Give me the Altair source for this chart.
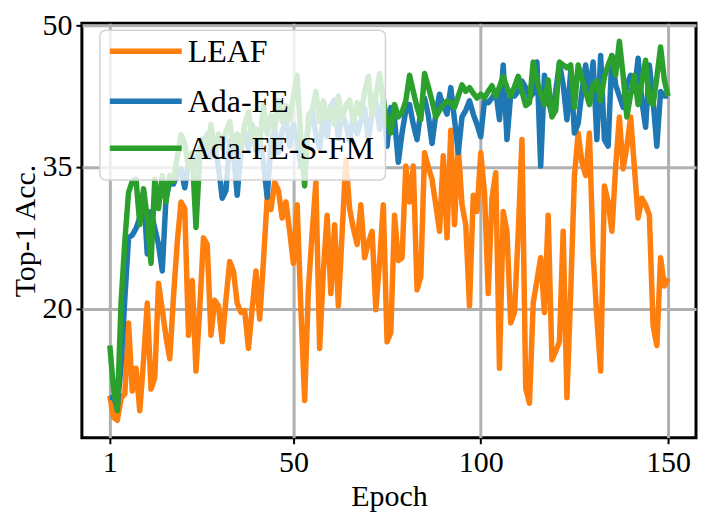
import altair as alt
import pandas as pd

epochs = list(range(1, 151))

leaf = [10.8, 8.5, 8.2, 10.5, 11.0, 18.5, 11.3, 13.7, 9.2, 14.5,
        20.6, 11.5, 12.7, 22.7, 19.9, 17.0, 14.7, 21.3, 27.0, 31.3,
        30.6, 17.2, 23.0, 13.4, 20.0, 27.5, 26.8, 17.2, 20.9, 20.3,
        16.5, 21.0, 25.0, 24.0, 20.6, 19.6, 19.8, 15.8, 20.0, 24.0,
        18.9, 25.0, 31.7, 30.5, 33.4, 32.5, 29.6, 31.3, 28.2, 24.8,
        31.0, 20.0, 10.3, 22.0, 28.0, 33.4, 15.8, 24.0, 29.9, 21.6,
        28.9, 20.3, 28.0, 35.8, 30.6, 28.5, 26.8, 31.0, 25.4, 27.0,
        28.2, 19.9, 25.0, 31.0, 16.5, 17.5, 29.9, 25.1, 25.4, 35.1,
        31.3, 35.1, 22.0, 23.4, 36.5, 35.0, 33.7, 31.0, 28.2, 36.2,
        27.5, 38.9, 28.9, 37.2, 31.0, 28.9, 20.3, 32.0, 30.3, 36.5,
        32.3, 21.6, 31.7, 34.4, 13.7, 30.3, 28.2, 18.5, 19.6, 28.0,
        37.9, 11.6, 10.0, 20.6, 23.0, 25.4, 19.6, 29.9, 14.6, 15.5,
        16.5, 28.2, 10.6, 21.6, 34.0, 38.6, 35.5, 34.1, 38.6, 25.8,
        19.0, 13.4, 33.0, 31.3, 28.2, 35.0, 40.3, 34.8, 37.2, 40.3,
        35.0, 29.6, 31.7, 31.0, 29.9, 18.2, 16.1, 25.4, 22.4, 23.2]

ada_fe = [10.6, 10.6, 9.6, 14.0, 21.0, 27.5, 27.8, 28.5, 29.6, 32.3,
          25.8, 30.3, 28.5, 26.8, 24.0, 31.7, 33.4, 33.2, 34.2, 34.8,
          32.8, 35.5, 36.5, 35.0, 37.0, 36.2, 38.5, 36.0, 37.5, 35.0,
          31.7, 32.5, 37.8, 36.5, 32.0, 36.8, 38.8, 37.0, 39.5, 36.8,
          38.0, 35.5, 31.8, 37.5, 39.0, 36.5, 38.8, 40.0, 37.2, 39.5,
          38.0, 35.0, 36.8, 39.2, 41.0, 38.5, 37.0, 40.3, 38.2, 41.5,
          42.1, 38.0, 40.8, 39.5, 37.8, 40.5, 38.5, 39.8, 41.2, 38.0,
          40.6, 42.0, 39.0, 42.3, 37.2, 41.3, 40.0, 35.5, 38.6, 41.0,
          41.6, 39.5, 37.9, 41.0, 42.3, 40.5, 37.5, 40.6, 42.7, 41.5,
          40.6, 43.4, 40.0, 36.5, 40.3, 41.0, 42.0, 40.6, 39.5, 38.2,
          42.0, 41.8, 42.3, 43.0, 40.0, 45.8, 37.9, 42.7, 42.5, 43.0,
          44.1, 43.4, 42.3, 42.8, 46.1, 35.1, 44.7, 42.0, 40.6, 43.0,
          46.0, 43.7, 40.0, 45.1, 38.6, 39.6, 43.0, 45.8, 42.7, 46.1,
          37.9, 46.8, 37.9, 37.2, 46.8, 43.7, 42.5, 41.3, 43.7, 44.7,
          43.0, 46.5, 42.0, 39.2, 45.8, 42.0, 37.2, 43.0, 42.5, 42.5]

ada_fe_s_fm = [16.1, 11.5, 9.2, 20.6, 27.1, 32.3, 33.5, 33.7, 28.9, 32.7,
               29.6, 24.8, 33.7, 30.6, 34.1, 31.3, 34.1, 33.5, 36.0, 38.4,
               37.5, 35.0, 36.5, 28.6, 36.0, 38.0, 37.0, 39.5, 36.5, 38.5,
               37.0, 38.8, 39.8, 37.0, 38.5, 36.8, 39.5, 40.8, 38.0, 39.0,
               37.5, 41.5, 38.5, 40.5, 39.0, 42.0, 39.8, 41.5, 40.0, 42.5,
               44.7, 38.0, 33.0, 40.5, 41.0, 43.0, 39.8, 42.0, 40.2, 41.1,
               39.5, 42.5, 40.0, 41.5, 42.1, 39.8, 41.8, 40.5, 43.0, 44.6,
               40.5, 42.5, 44.9, 42.0, 40.0, 38.6, 41.6, 40.3, 40.8, 42.0,
               44.7, 43.0, 41.3, 40.0, 44.9, 43.5, 42.0, 40.3, 41.0, 41.6,
               42.0, 41.8, 41.3, 42.5, 43.7, 43.0, 43.4, 42.8, 42.3, 42.7,
               42.3, 43.0, 43.6, 42.5, 43.5, 44.6, 43.4, 42.5, 43.5, 44.6,
               43.0, 41.5, 41.8, 46.1, 44.1, 42.8, 41.6, 44.2, 40.3, 41.0,
               46.1, 45.8, 45.5, 45.8, 41.3, 45.8, 44.4, 43.0, 41.6, 43.7,
               44.1, 42.0, 44.5, 45.8, 46.8, 44.7, 48.3, 44.7, 40.3, 42.7,
               44.7, 41.6, 44.0, 46.3, 42.0, 41.6, 44.5, 47.7, 44.2, 42.5]

series_names = ["LEAF", "Ada-FE", "Ada-FE-S-FM"]
series_colors = ["#ff7f0e", "#1f77b4", "#2ca02c"]
x_ticks = [1, 50, 100, 150]
y_ticks = [20, 35, 50]

frames = []
for name, vals in zip(series_names, [leaf, ada_fe, ada_fe_s_fm]):
    frames.append(pd.DataFrame({"Epoch": epochs, "Acc": vals, "Method": name}))
df = pd.concat(frames, ignore_index=True)
legend_df = pd.DataFrame({"Method": series_names})

FONT = "Liberation Serif"
LW = 5.5
TOP = 23  # plot area top in page pixels

color = alt.Color(
    "Method:N",
    scale=alt.Scale(domain=series_names, range=series_colors),
    legend=None,
)

x_enc = alt.X(
    "Epoch:Q",
    scale=alt.Scale(domain=[-6.45, 157.45], nice=False, zero=False),
    axis=alt.Axis(values=x_ticks, title="Epoch"),
)
y_enc = alt.Y(
    "Acc:Q",
    scale=alt.Scale(domain=[6.35, 50.2], nice=False, zero=False),
    axis=alt.Axis(values=y_ticks, title="Top-1 Acc."),
)

layers = []
for name in series_names:
    layers.append(
        alt.Chart(df)
        .transform_filter(alt.datum.Method == name)
        .mark_line(strokeWidth=LW, strokeJoin="round", clip=True)
        .encode(x=x_enc, y=y_enc, color=color)
    )

# legend box (drawn above the lines, semi-transparent like matplotlib)
layers.append(
    alt.Chart(legend_df.head(1))
    .mark_rect(fill="white", fillOpacity=0.8, stroke="#d4d4d4",
               strokeWidth=1.5, cornerRadius=6)
    .encode(x=alt.value(18), x2=alt.value(304),
            y=alt.value(30 - TOP), y2=alt.value(180 - TOP))
)

row_y = [51 - TOP, 101 - TOP, 148 - TOP]
for i, name in enumerate(series_names):
    sub = legend_df[legend_df["Method"] == name]
    layers.append(
        alt.Chart(sub)
        .mark_rule(strokeWidth=LW)
        .encode(x=alt.value(28), x2=alt.value(100), y=alt.value(row_y[i]), color=color)
    )
    layers.append(
        alt.Chart(sub)
        .mark_text(align="left", baseline="middle", font=FONT, fontSize=32, color="black")
        .encode(x=alt.value(106), y=alt.value(row_y[i] + 1), text="Method:N")
    )

chart = (
    alt.layer(*layers)
    .properties(
        width=615,
        height=438 - TOP,
        autosize=alt.AutoSizeParams(type="none"),
        padding={"left": 74, "top": TOP - 8, "right": 2, "bottom": 76},
    )
    .configure_view(stroke="black", strokeWidth=3)
    .configure_axis(
        domain=False,
        grid=True,
        gridColor="#b0b0b0",
        gridWidth=3,
        tickColor="black",
        tickWidth=2,
        tickSize=6,
        labelFont=FONT,
        labelFontSize=30,
        labelColor="black",
        labelPadding=4,
        titleFont=FONT,
        titleFontSize=30,
        titleFontWeight="normal",
        titleColor="black",
    )
    .configure_axisX(titlePadding=4)
    .configure_axisY(titlePadding=1)
)

chart.save("out.html", embed_options={"renderer": "svg", "actions": False})
